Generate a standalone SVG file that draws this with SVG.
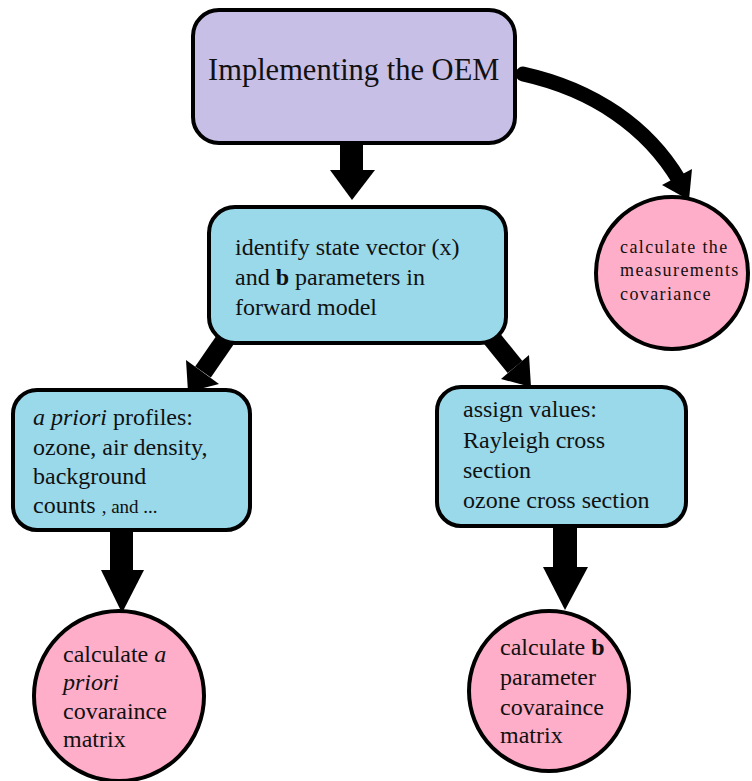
<svg xmlns="http://www.w3.org/2000/svg" width="752" height="781" viewBox="0 0 752 781">
<style>
.box{stroke:#000;stroke-width:4}
.lav{fill:#C8BFE7}
.cyan{fill:#99D9EA}
.pink{fill:#FFAEC9}
.t{fill:#111;font-family:"Liberation Serif","Times New Roman",serif;font-size:24px}
.arrow{fill:#000}
.shaft{stroke:#000;fill:none}
</style>
<rect width="752" height="781" fill="#fff"/>
<g id="connectors">
<rect class="arrow" x="340" y="140" width="23" height="32"/>
<polygon class="arrow" points="330,170 375,170 352,200"/>
<line class="shaft" x1="232" y1="330" x2="203" y2="372" stroke-width="19"/>
<polygon class="arrow" points="219,384 186,360 188,392"/>
<line class="shaft" x1="485" y1="330" x2="515" y2="367" stroke-width="19"/>
<polygon class="arrow" points="529,355 501,379 531,387"/>
<rect class="arrow" x="110" y="526" width="23" height="46"/>
<polygon class="arrow" points="101,570 144,570 122,613"/>
<rect class="arrow" x="553" y="522" width="24" height="47"/>
<polygon class="arrow" points="543,567 588,567 565,610"/>
<path class="shaft" d="M523,74 C595,90 648,128 679,180" stroke-width="15" stroke-linecap="round"/>
<polygon class="arrow" points="692,169 662,185 689,200"/>
</g>
<g id="n-oem">
<rect class="box lav" x="193" y="10" width="322" height="133" rx="26"/>
<text class="t" x="208" y="80" style="font-size:30.5px">Implementing the OEM</text>
</g>
<g id="n-state">
<rect class="box cyan" x="209" y="207" width="297" height="136" rx="26"/>
<text class="t"><tspan x="235" y="255">identify state vector (x)</tspan><tspan x="235" y="285">and <tspan font-weight="bold">b</tspan> parameters in</tspan><tspan x="235" y="315">forward model</tspan></text>
</g>
<g id="n-meas">
<circle class="box pink" cx="672" cy="273" r="76"/>
<text class="t" style="font-size:18px" letter-spacing="1.4"><tspan x="620" y="253">calculate the</tspan><tspan x="620" y="276">measurements</tspan><tspan x="620" y="300">covariance</tspan></text>
</g>
<g id="n-apriori">
<rect class="box cyan" x="13" y="390" width="237" height="140" rx="24"/>
<text class="t"><tspan x="33" y="425"><tspan font-style="italic">a priori</tspan> profiles:</tspan><tspan x="33" y="455">ozone, air density,</tspan><tspan x="33" y="484">background</tspan><tspan x="33" y="513">counts <tspan style="font-size:19px">, and ...</tspan></tspan></text>
</g>
<g id="n-assign">
<rect class="box cyan" x="437" y="387" width="249" height="139" rx="24"/>
<text class="t"><tspan x="463" y="417">assign values:</tspan><tspan x="463" y="448">Rayleigh cross</tspan><tspan x="463" y="478">section</tspan><tspan x="463" y="508">ozone cross section</tspan></text>
</g>
<g id="n-acov">
<circle class="box pink" cx="119" cy="696" r="85"/>
<text class="t"><tspan x="63" y="662">calculate <tspan font-style="italic">a</tspan></tspan><tspan x="63" y="690" font-style="italic">priori</tspan><tspan x="63" y="719">covaraince</tspan><tspan x="63" y="747">matrix</tspan></text>
</g>
<g id="n-bcov">
<circle class="box pink" cx="549" cy="691" r="80"/>
<text class="t"><tspan x="500" y="655">calculate <tspan font-weight="bold">b</tspan></tspan><tspan x="500" y="685">parameter</tspan><tspan x="500" y="715">covaraince</tspan><tspan x="500" y="743">matrix</tspan></text>
</g>
</svg>
